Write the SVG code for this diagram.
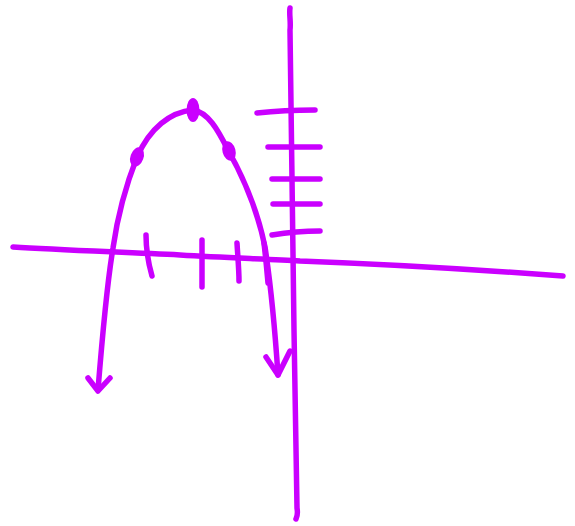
<svg xmlns="http://www.w3.org/2000/svg" width="575" height="526" viewBox="0 0 575 526">
<style>
.s{fill:none;stroke:#CA00FF;stroke-width:5.5;stroke-linecap:round;stroke-linejoin:round}
.d{fill:#CA00FF}
</style>
<rect width="575" height="526" fill="#fff"/>
<g id="axes">
<path class="s" d="M13,247 C60,250 120,252 180,255 C230,258 270,259 300,261 C380,264 470,269 563,276"/>
<path class="s" d="M290,8 C289,14 291,22 290,30 C292,120 292,250 294,330 C296,420 296,480 297,508 C298,514 297,517 296,519"/>
</g>
<g id="y-ticks">
<path class="s" d="M257,113 C275,111 295,110 315,110"/>
<path class="s" d="M268,147 L320,147"/>
<path class="s" d="M272,179 L320,179"/>
<path class="s" d="M273,204 L320,204"/>
<path class="s" d="M272,235 C290,232 305,231 320,231"/>
</g>
<g id="x-ticks">
<path class="s" d="M146,235 C146,250 148,262 152,276"/>
<path class="s" d="M202,240 L202,287"/>
<path class="s" d="M237,243 C238,260 239,270 239,281"/>
</g>
<g id="parabola">
<path class="s" d="M98,390 C102,340 106,290 113,248 C117,220 124,190 137,157 C150,128 170,112 193,110 C208,112 218,130 228,150 C245,180 258,213 265,247 C270,280 275,330 278,375"/>
<path class="s" d="M264,243 C266,260 267,272 268,283"/>
<path class="s" d="M88,378 L98,391 L110,378"/>
<path class="s" d="M266,357 L278,375 L290,351"/>
<ellipse class="d" cx="193" cy="110" rx="6.5" ry="12"/>
<ellipse class="d" cx="137" cy="157" rx="6.5" ry="10" transform="rotate(20 137 157)"/>
<ellipse class="d" cx="229" cy="151" rx="6.5" ry="10" transform="rotate(-15 229 151)"/>
</g>
</svg>
